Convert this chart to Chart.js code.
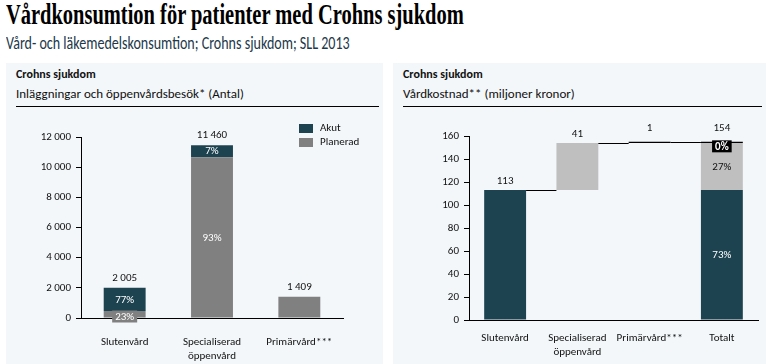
<!DOCTYPE html>
<html>
<head>
<meta charset="utf-8">
<script src="https://cdn.jsdelivr.net/npm/chart.js@4.4.0/dist/chart.umd.min.js"></script>
<style>
  body { margin: 0; width: 766px; height: 364px; background: #fff; position: relative; overflow: hidden; font-family: Carlito, Lato, sans-serif; }
  #title { position: absolute; left: 6px; top: -2px; font: bold 29px 'Liberation Serif', serif; white-space: nowrap; transform-origin: 0 0; color: #000; }
  #sub { position: absolute; left: 6px; top: 32px; font-size: 18px; color: #22384a; white-space: nowrap; transform-origin: 0 0; }
  .panel { position: absolute; top: 63px; height: 301px; background: #f3f7fa; }
  .ph { position: absolute; left: 10px; top: 4px; font-weight: bold; font-size: 12px; color: #111; }
  .ps { position: absolute; left: 10px; top: 23px; font-size: 13px; color: #111; white-space: nowrap; }
  .rule { position: absolute; left: 10px; right: 4px; top: 43px; border-top: 1.5px solid #000; }
  canvas { position: absolute; left: 0; top: 45px; }
  .lg { position: absolute; font-size: 11px; color: #111; }
  .lg i { position: absolute; left: 0; width: 14px; height: 9px; }
  .lg span { position: absolute; left: 21px; top: -3px; white-space: nowrap; }
</style>
</head>
<body>
<div id="title">Vårdkonsumtion för patienter med Crohns sjukdom</div>
<div id="sub">Vård- och läkemedelskonsumtion; Crohns sjukdom; SLL 2013</div>

<div class="panel" style="left:6px;width:377px">
  <div class="ph">Crohns sjukdom</div>
  <div class="ps">Inläggningar och öppenvårdsbesök* (Antal)</div>
  <div class="rule"></div>
  <canvas id="left" width="377" height="256"></canvas>
  <div class="lg" style="left:293px;top:61px"><i style="background:#1e4350"></i><span>Akut</span></div>
  <div class="lg" style="left:293px;top:75px"><i style="background:#808080"></i><span>Planerad</span></div>
</div>

<div class="panel" style="left:393px;width:373px">
  <div class="ph">Crohns sjukdom</div>
  <div class="ps">Vårdkostnad** (miljoner kronor)</div>
  <div class="rule"></div>
  <canvas id="right" width="373" height="256"></canvas>
</div>

<script>
// left chart: visits
const visitCats = ['Slutenvård', ['Specialiserad', 'öppenvård'], 'Primärvård***'];
const planerad = [461, 10658, 1409];
const akut = [1544, 802, 0];
const visitTotals = [2005, 11460, 1409];
const akutPct = ['77%', '7%', ''];
const planeradPct = ['23%', '93%', ''];
const visitTicks = [0, 2000, 4000, 6000, 8000, 10000, 12000];

// right chart: cost waterfall
const costCats = ['Slutenvård', ['Specialiserad', 'öppenvård'], 'Primärvård***', 'Totalt'];
const costs = [113, 41, 1];
const costTotal = 154;
const costPct = ['73%', '27%', '0%'];
const costTicks = [0, 20, 40, 60, 80, 100, 120, 140, 160];

const DARK = '#1e4350', GRAY = '#808080', LIGHT = '#bfbfbf', BLACK = '#000';
const FONT = 'Carlito, Lato, sans-serif';

Chart.defaults.font.family = FONT;
Chart.defaults.font.size = 11;
Chart.defaults.color = '#111';

function fmt(v) { return String(v).replace(/\B(?=(\d{3})+(?!\d))/g, ' '); }

// fit the headings to the reference widths
function fit(id, w) { const el = document.getElementById(id); el.style.transform = 'scaleX(' + (w / el.offsetWidth) + ')'; }
fit('title', 458);
fit('sub', 344);

function label(ctx, text, x, y, color, bg, bold) {
    ctx.save();
    ctx.font = (bold ? 'bold ' : '') + '11px ' + FONT;
    ctx.textAlign = 'center';
    ctx.textBaseline = 'middle';
    if (bg) {
        const w = ctx.measureText(text).width + 6;
        ctx.fillStyle = bg;
        ctx.fillRect(x - w / 2, y - 6, w, 12);
    }
    ctx.fillStyle = color;
    ctx.fillText(text, x, y + 0.5);
    ctx.restore();
}

function yAxis(max, step, width) {
    return {
        min: 0, max: max, stacked: true,
        afterFit: s => { s.width = width; },
        afterBuildTicks: s => { s.ticks = (max > 1000 ? visitTicks : costTicks).map(v => ({ value: v })); },
        ticks: { stepSize: step, padding: 5, callback: v => fmt(v), color: '#111' },
        grid: { drawOnChartArea: false, drawTicks: true, tickLength: 5, color: '#000' },
        border: { display: true, color: '#000', width: 1 }
    };
}

const leftLabels = {
    id: 'leftLabels',
    afterDatasetsDraw(chart) {
        const ctx = chart.ctx, y = chart.scales.y;
        const pm = chart.getDatasetMeta(0), am = chart.getDatasetMeta(1);
        visitTotals.forEach((t, i) => {
            label(ctx, fmt(t), pm.data[i].x, y.getPixelForValue(t) - 10, '#111');
            if (akutPct[i]) { const e = am.data[i]; label(ctx, akutPct[i], e.x, (e.y + e.base) / 2, '#fff'); }
            if (planeradPct[i]) {
                const e = pm.data[i];
                const small = Math.abs(e.base - e.y) < 14;
                label(ctx, planeradPct[i], e.x, small ? e.base - 1 : (e.y + e.base) / 2, '#fff', small ? GRAY : null);
            }
        });
    }
};

new Chart(document.getElementById('left'), {
    type: 'bar',
    data: {
        labels: visitCats,
        datasets: [
            { label: 'Planerad', data: planerad, backgroundColor: GRAY },
            { label: 'Akut', data: akut, backgroundColor: DARK }
        ]
    },
    options: {
        responsive: false, animation: false,
        layout: { padding: { top: 29, right: 40, left: 0, bottom: 0 } },
        plugins: { legend: { display: false }, tooltip: { enabled: false } },
        datasets: { bar: { categoryPercentage: 1, barPercentage: 0.48 } },
        scales: {
            x: {
                stacked: true,
                afterFit: s => { s.height = 46; },
                ticks: { padding: 18, maxRotation: 0, color: '#111' },
                grid: { display: false, drawTicks: false },
                border: { display: true, color: '#000', width: 1 }
            },
            y: yAxis(12000, 2000, 75)
        }
    },
    plugins: [leftLabels]
});

// waterfall ranges built from the costs
const cum = [0];
costs.forEach((c, i) => cum.push(cum[i] + c));
const wfData = costs.map((c, i) => costCats.map((_, j) => (j === i || j === costCats.length - 1) ? [cum[i], cum[i + 1]] : null));
const wfColors = [DARK, LIGHT, BLACK];

const rightLabels = {
    id: 'rightLabels',
    afterDatasetsDraw(chart) {
        const ctx = chart.ctx, y = chart.scales.y;
        const metas = costs.map((_, i) => chart.getDatasetMeta(i));
        const last = costCats.length - 1;
        // connectors
        ctx.save();
        ctx.strokeStyle = '#000';
        ctx.lineWidth = 1;
        for (let i = 0; i < costs.length; i++) {
            const a = metas[i].data[i];
            const b = i + 1 < costs.length ? metas[i + 1].data[i + 1] : metas[0].data[last];
            const py = Math.round(y.getPixelForValue(cum[i + 1])) + 0.5;
            ctx.beginPath();
            ctx.moveTo(a.x + a.width / 2, py);
            ctx.lineTo(b.x - b.width / 2, py);
            ctx.stroke();
        }
        ctx.restore();
        const lift = [9, 9, 14];
        costs.forEach((c, i) => {
            const e = metas[i].data[i];
            label(ctx, String(c), e.x, y.getPixelForValue(cum[i + 1]) - lift[i], '#111');
        });
        const tx = metas[0].data[last].x;
        label(ctx, String(costTotal), tx, y.getPixelForValue(cum[costs.length]) - 14, '#111');
        const d = metas[0].data[last], g = metas[1].data[last], k = metas[2].data[last];
        label(ctx, costPct[0], tx, (d.y + d.base) / 2, '#fff');
        label(ctx, costPct[1], tx, (g.y + g.base) / 2, '#111');
        label(ctx, costPct[2], tx, (k.y + k.base) / 2 + 4, '#fff', BLACK, true);
    }
};

new Chart(document.getElementById('right'), {
    type: 'bar',
    data: {
        labels: costCats,
        datasets: costs.map((c, i) => ({ data: wfData[i], backgroundColor: wfColors[i] }))
    },
    options: {
        responsive: false, animation: false,
        layout: { padding: { top: 28, right: 8, left: 0, bottom: 0 } },
        plugins: { legend: { display: false }, tooltip: { enabled: false } },
        datasets: { bar: { categoryPercentage: 1, barPercentage: 0.58 } },
        scales: {
            x: {
                stacked: true,
                afterFit: s => { s.height = 44; },
                ticks: { padding: 12, maxRotation: 0, color: '#111' },
                grid: { display: false, drawTicks: false },
                border: { display: true, color: '#000', width: 1 }
            },
            y: Object.assign(yAxis(160, 20, 76), { stacked: false })
        }
    },
    plugins: [rightLabels]
});
</script>
</body>
</html>
